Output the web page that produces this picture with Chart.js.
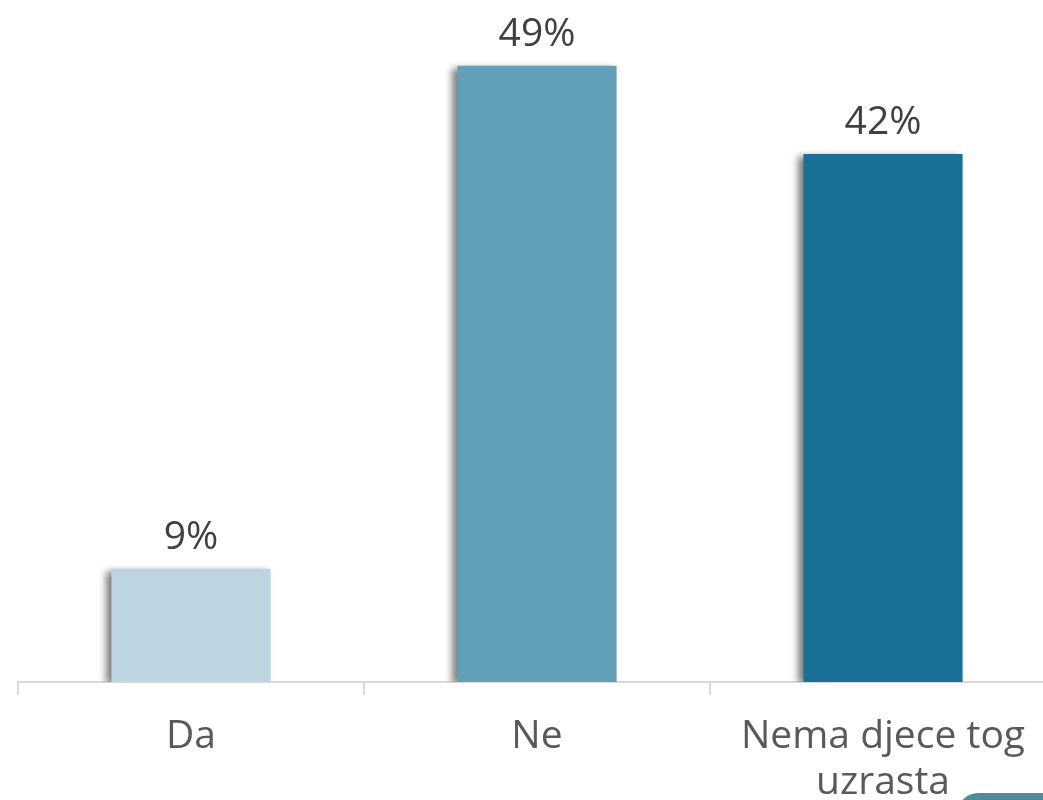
<!DOCTYPE html>
<html>
<head>
<meta charset="utf-8">
<script src="https://cdn.jsdelivr.net/npm/chart.js@4"></script>
<style>
  html, body { margin: 0; padding: 0; background: #fff; overflow: hidden; }
  #wrap { position: relative; width: 1043px; height: 800px; overflow: hidden; }
  #badge { position: absolute; left: 958px; top: 793px; width: 140px; height: 40px;
           border-radius: 22px; background: #4f8d96; }
</style>
</head>
<body>
<div id="wrap">
  <canvas id="answerChart" width="1056" height="800"></canvas>
  <div id="badge"></div>
</div>
<script>
// categories (last one wraps onto two lines)
const categories = [["Da"], ["Ne"], ["Nema djece tog", "uzrasta"]];
// share of answers, in percent
const values = [9, 49, 42];
const barColors = ["#BDD5E1", "#62A0BA", "#1A7097"];

const labelFont = { family: "'Open Sans', 'Liberation Sans', sans-serif", size: 39 };

// soft shadow behind the bars + value labels above them
const barExtras = {
  id: "barExtras",
  beforeDatasetDraw(chart) {
    const ctx = chart.ctx;
    ctx.save();
    ctx.shadowColor = "rgba(0,0,0,0.5)";
    ctx.shadowBlur = 7;
    ctx.shadowOffsetX = -5;
    ctx.shadowOffsetY = 2;
  },
  afterDatasetDraw(chart) {
    chart.ctx.restore();
  },
  afterDatasetsDraw(chart) {
    const ctx = chart.ctx;
    const meta = chart.getDatasetMeta(0);
    ctx.save();
    ctx.font = labelFont.size + "px " + labelFont.family;
    ctx.fillStyle = "#404040";
    ctx.textAlign = "center";
    ctx.textBaseline = "alphabetic";
    meta.data.forEach((bar, i) => {
      ctx.fillText(values[i] + "%", bar.x, bar.y - 20);
    });
    ctx.restore();
  }
};

new Chart(document.getElementById("answerChart"), {
  type: "bar",
  data: {
    labels: categories,
    datasets: [{
      data: values,
      backgroundColor: barColors,
      borderWidth: 0,
      categoryPercentage: 1,
      barPercentage: 0.46
    }]
  },
  options: {
    responsive: false,
    animation: false,
    devicePixelRatio: 1,
    layout: { padding: { left: 18, top: 3, right: 0, bottom: 0 } },
    plugins: { legend: { display: false }, tooltip: { enabled: false } },
    scales: {
      x: {
        grid: { drawOnChartArea: false, drawTicks: true, tickLength: 13, color: "#d9d9d9", lineWidth: 2 },
        border: { color: "#d9d9d9", width: 2 },
        ticks: { color: "#595959", font: { ...labelFont, lineHeight: 1.18 }, padding: 19, maxRotation: 0 },
        afterFit(scale) { scale.height = 118; }
      },
      y: { display: false, min: 0, max: 54 }
    }
  },
  plugins: [barExtras]
});
</script>
</body>
</html>
